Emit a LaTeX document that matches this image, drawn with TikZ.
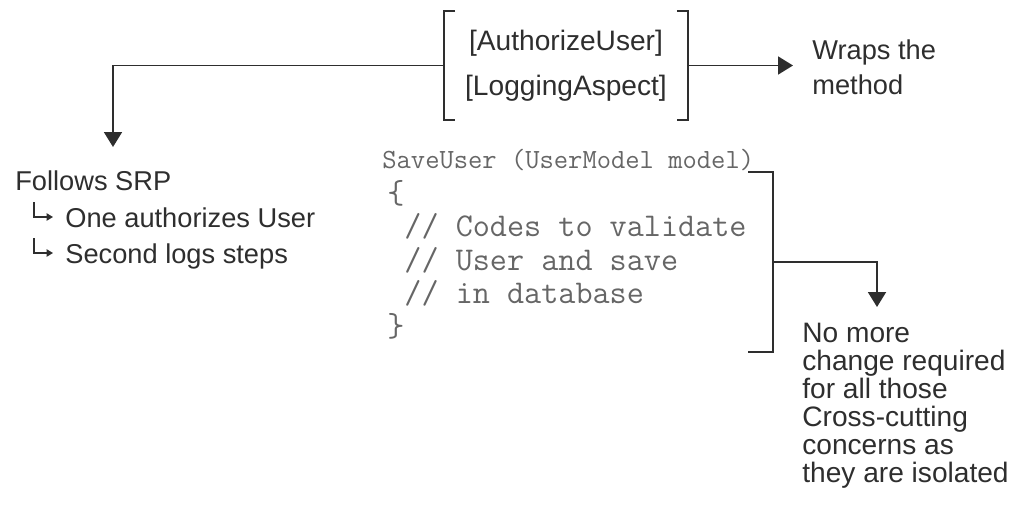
\documentclass[tikz,border=0pt]{standalone}
\usepackage{fontspec}
\setmainfont{Liberation Sans}
\usetikzlibrary{arrows.meta}
\definecolor{inkgray}{gray}{0.18}
\definecolor{codegray}{gray}{0.40}
\tikzset{
  bracket/.style={line width=1.1pt, draw=inkgray, line cap=butt, line join=miter},
  conn/.style={line width=1.1pt, draw=inkgray, -{Triangle[width=0.36cm,length=0.3cm]}},
  hook/.style={line width=0.7pt, draw=inkgray, -{Triangle[width=0.15cm,length=0.13cm]}},
  notetext/.style={font=\fontsize{15.5}{20}\selectfont, text=inkgray, inner sep=0pt, align=left},
  attrtext/.style={font=\fontsize{16}{25.6}\selectfont, text=inkgray, align=center,
    minimum width=4.86cm, minimum height=2.18cm, inner sep=0pt},
  codetext/.style={font=\ttfamily\fontsize{18.9}{19}\selectfont, text=codegray, inner sep=0pt, align=left},
}
\begin{document}
\begin{tikzpicture}
\useasboundingbox (0,0) rectangle (20.26,10.38);
% attributes on the method
\node[attrtext] (attrs) at (11.32,9.07) {{[}AuthorizeUser{]}\\{[}LoggingAspect{]}};
\draw[bracket] (attrs.north west) ++(0.22,0) -- (attrs.north west) -- (attrs.south west) -- ++(0.22,0);
\draw[bracket] (attrs.north east) ++(-0.22,0) -- (attrs.north east) -- (attrs.south east) -- ++(-0.22,0);
\node[notetext, anchor=west] (wraps) at (16.24,9.03) {Wraps the\\method};
\draw[conn, shorten >=0.38cm] (attrs.east) -- (attrs.east -| wraps.west);
% SRP note
\node[notetext, anchor=base west] (srp) at (0.30,6.58) {Follows SRP};
\node[notetext, anchor=base west] (authz) at (1.30,5.84) {One authorizes User};
\node[notetext, anchor=base west] (logs) at (1.30,5.12) {Second logs steps};
\draw[hook] ([shift={(-0.62,0.50)}]authz.base west) |- ([shift={(-0.24,0.20)}]authz.base west);
\draw[hook] ([shift={(-0.62,0.50)}]logs.base west) |- ([shift={(-0.24,0.20)}]logs.base west);
\coordinate (srptip) at (2.26,7.44);
\draw[conn] (attrs.west) -| (srptip);
% method body
\node[codetext, font=\ttfamily\fontsize{15.8}{15.8}\selectfont, anchor=base west] (sig) at (7.64,7.02)
  {SaveUser (UserModel model)};
\node[codetext, anchor=north west] (body) at (7.74,6.78)
  {\{\\\ // Codes to validate\\\ // User and save\\\ // in database\\\}};
\draw[bracket] (14.96,6.94) -- (15.46,6.94) -- (15.46,3.34) -- (14.96,3.34);
\coordinate (bodymid) at (15.46,5.14);
\coordinate (notetip) at (17.54,4.24);
\node[notetext, font=\fontsize{16}{15.9}\selectfont, anchor=north west] (nochange) at (16.04,3.92)
  {No more\\change required\\for all those\\Cross-cutting\\concerns as\\they are isolated};
\draw[conn] (bodymid) -| (notetip);
\end{tikzpicture}
\end{document}
